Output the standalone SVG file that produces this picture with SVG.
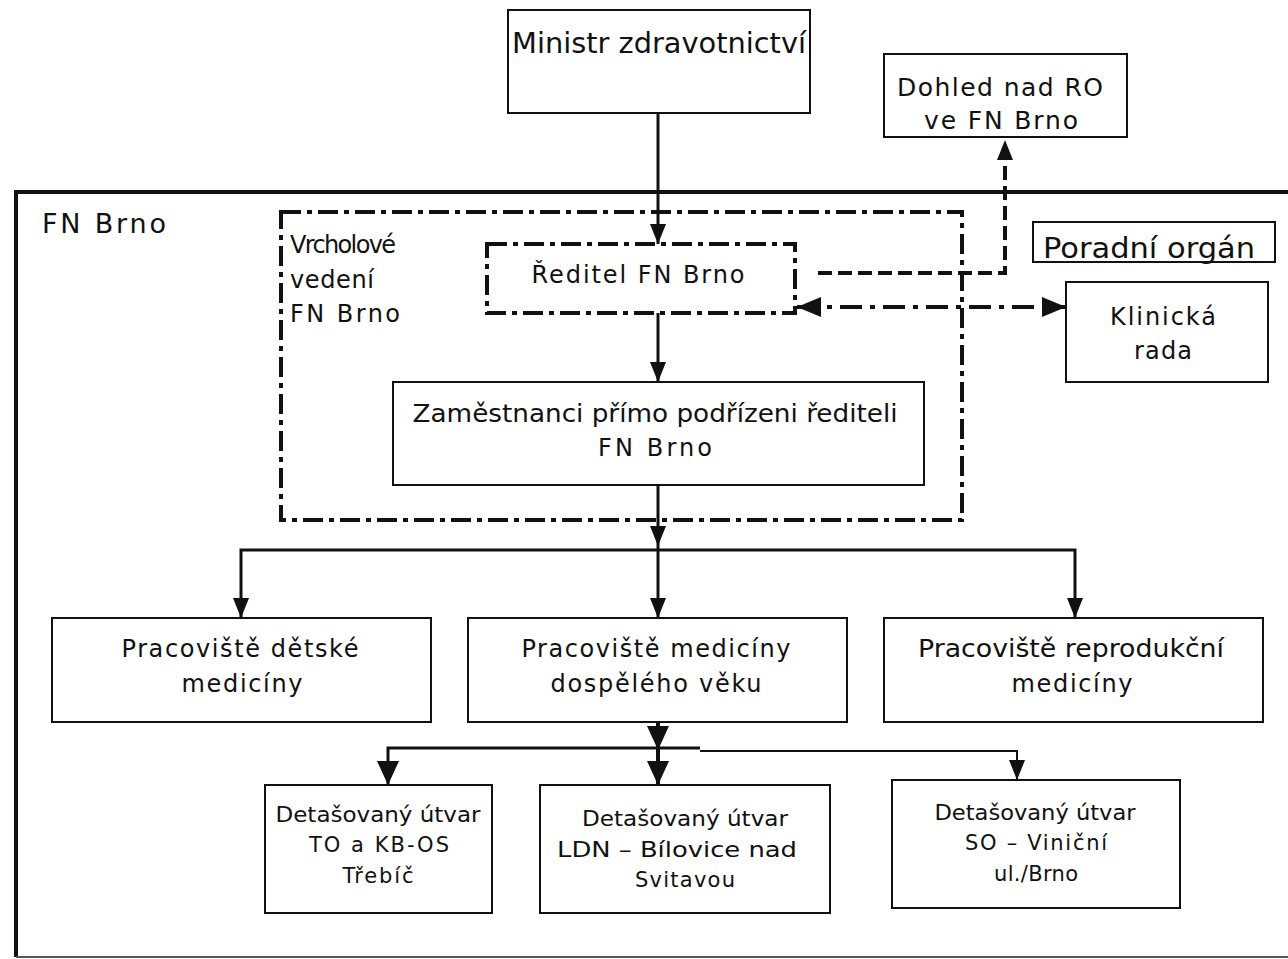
<svg xmlns="http://www.w3.org/2000/svg" width="1288" height="959" viewBox="0 0 1288 959">
<style>
text{font-family:"DejaVu Sans","Liberation Sans",Arial,sans-serif;fill:#111;}
.box{fill:#fff;stroke:#111;stroke-width:2;}
.dd{fill:none;stroke:#111;stroke-width:4;stroke-dasharray:20 6 5 6;}
.c{fill:none;stroke:#111;stroke-width:3;}
.dash{fill:none;stroke:#111;stroke-width:4;stroke-dasharray:14 6;}
.ddl{fill:none;stroke:#111;stroke-width:4;stroke-dasharray:22 8 5 8;}
.t24{font-size:24px;}
.t21{font-size:21px;}
</style>
<defs>
<marker id="ah" markerUnits="userSpaceOnUse" markerWidth="20" markerHeight="16" viewBox="0 0 20 16" refX="20" refY="8" orient="auto-start-reverse">
<path d="M0,0 L20,8 L0,16 Z" fill="#111"/>
</marker>
<marker id="ab" markerUnits="userSpaceOnUse" markerWidth="24" markerHeight="22" viewBox="0 0 24 22" refX="24" refY="11" orient="auto-start-reverse">
<path d="M0,0 L24,11 L0,22 Z" fill="#111"/>
</marker>
<marker id="ar" markerUnits="userSpaceOnUse" markerWidth="24" markerHeight="20" viewBox="0 0 24 20" refX="24" refY="10" orient="auto-start-reverse">
<path d="M0,0 L24,10 L0,20 Z" fill="#111"/>
</marker>
</defs>
<rect width="1288" height="959" fill="#fff"/>

<g id="frame-fn-brno">
<path d="M16,957 L16,192 L1288,192" fill="none" stroke="#111" stroke-width="4"/>
<path d="M16,957 L1288,957" fill="none" stroke="#555" stroke-width="2"/>
<text x="42" y="233" font-size="27" textLength="124">FN Brno</text>
</g>

<g id="vrcholove-vedeni">
<rect class="dd" x="281" y="212" width="681" height="308"/>
<text class="t24" x="290" y="253" textLength="106">Vrcholové</text>
<text class="t24" x="290" y="288" textLength="84">vedení</text>
<text class="t24" x="290" y="322" textLength="110">FN Brno</text>
</g>

<g id="ministr">
<rect class="box" x="508" y="10" width="302" height="103"/>
<text x="512" y="53" font-size="29" textLength="294" lengthAdjust="spacingAndGlyphs">Ministr zdravotnictví</text>
</g>

<g id="dohled">
<rect class="box" x="884" y="54" width="243" height="83"/>
<text x="1000" y="96" font-size="25" text-anchor="middle" textLength="206">Dohled nad RO</text>
<text x="1001" y="129" font-size="25" text-anchor="middle" textLength="154">ve FN Brno</text>
</g>

<g id="poradni-organ">
<rect class="box" x="1033" y="222" width="242" height="40"/>
<text x="1149" y="258" font-size="28" text-anchor="middle" textLength="212" lengthAdjust="spacingAndGlyphs">Poradní orgán</text>
</g>

<g id="klinicka-rada">
<rect class="box" x="1066" y="282" width="202" height="100"/>
<text class="t24" x="1163" y="325" text-anchor="middle" textLength="106">Klinická</text>
<text class="t24" x="1163" y="359" text-anchor="middle" textLength="58">rada</text>
</g>

<g id="reditel">
<rect class="dd" x="487" y="244" width="308" height="69"/>
<text class="t24" x="638" y="283" text-anchor="middle" textLength="213">Ředitel FN Brno</text>
</g>

<g id="zamestnanci">
<rect class="box" x="393" y="382" width="531" height="103"/>
<text class="t24" x="655" y="422" text-anchor="middle" textLength="485" lengthAdjust="spacingAndGlyphs">Zaměstnanci přímo podřízeni řediteli</text>
<text class="t24" x="655" y="456" text-anchor="middle" textLength="114">FN Brno</text>
</g>

<g id="pracoviste-detske">
<rect class="box" x="52" y="618" width="379" height="104"/>
<text class="t24" x="240" y="657" text-anchor="middle" textLength="237">Pracoviště dětské</text>
<text class="t24" x="242" y="692" text-anchor="middle" textLength="121">medicíny</text>
</g>

<g id="pracoviste-dospele">
<rect class="box" x="468" y="618" width="379" height="104"/>
<text class="t24" x="656" y="657" text-anchor="middle" textLength="269">Pracoviště medicíny</text>
<text class="t24" x="656" y="692" text-anchor="middle" textLength="211">dospělého věku</text>
</g>

<g id="pracoviste-reprodukcni">
<rect class="box" x="884" y="618" width="379" height="104"/>
<text class="t24" x="1071" y="657" text-anchor="middle" textLength="306" lengthAdjust="spacingAndGlyphs">Pracoviště reprodukční</text>
<text class="t24" x="1072" y="692" text-anchor="middle" textLength="121">medicíny</text>
</g>

<g id="det-trebic">
<rect class="box" x="265" y="785" width="227" height="128"/>
<text class="t21" x="378" y="822" text-anchor="middle" textLength="205" lengthAdjust="spacingAndGlyphs">Detašovaný útvar</text>
<text class="t21" x="379" y="852" text-anchor="middle" textLength="140">TO a KB-OS</text>
<text class="t21" x="378" y="883" text-anchor="middle" textLength="71">Třebíč</text>
</g>

<g id="det-bilovice">
<rect class="box" x="540" y="785" width="290" height="128"/>
<text class="t21" x="685" y="826" text-anchor="middle" textLength="206" lengthAdjust="spacingAndGlyphs">Detašovaný útvar</text>
<text class="t21" x="677" y="857" text-anchor="middle" textLength="240" lengthAdjust="spacingAndGlyphs">LDN – Bílovice nad</text>
<text class="t21" x="685" y="887" text-anchor="middle" textLength="100">Svitavou</text>
</g>

<g id="det-vinicni">
<rect class="box" x="892" y="780" width="288" height="128"/>
<text class="t21" x="1035" y="820" text-anchor="middle" textLength="201" lengthAdjust="spacingAndGlyphs">Detašovaný útvar</text>
<text class="t21" x="1036" y="850" text-anchor="middle" textLength="142">SO – Viniční</text>
<text class="t21" x="1036" y="881" text-anchor="middle" textLength="84">ul./Brno</text>
</g>

<g id="connectors">
<path class="c" d="M658,113 L658,244" marker-end="url(#ah)"/>
<path class="c" d="M658,313 L658,382" marker-end="url(#ah)"/>
<path class="c" d="M658,485 L658,546" marker-end="url(#ah)"/>
<path class="c" d="M658,546 L658,618" marker-end="url(#ah)"/>
<path class="c" d="M241,618 L241,550 L1075,550 L1075,618" marker-start="url(#ah)" marker-end="url(#ah)"/>
<path class="c" d="M658,722 L658,750" marker-end="url(#ab)" style="stroke-width:4"/>
<path class="c" d="M658,750 L658,785" marker-end="url(#ab)" style="stroke-width:4"/>
<path class="c" d="M388,785 L388,748 L700,748" marker-start="url(#ab)" style="stroke-width:3"/>
<path class="c" d="M700,751 L1017,751 L1017,780" marker-end="url(#ah)" style="stroke-width:2"/>
<path class="dash" d="M818,273 L1005,273 L1005,140" marker-end="url(#ah)"/>
<path class="ddl" d="M797,307 L1066,307" marker-start="url(#ar)" marker-end="url(#ar)"/>
</g>
</svg>
